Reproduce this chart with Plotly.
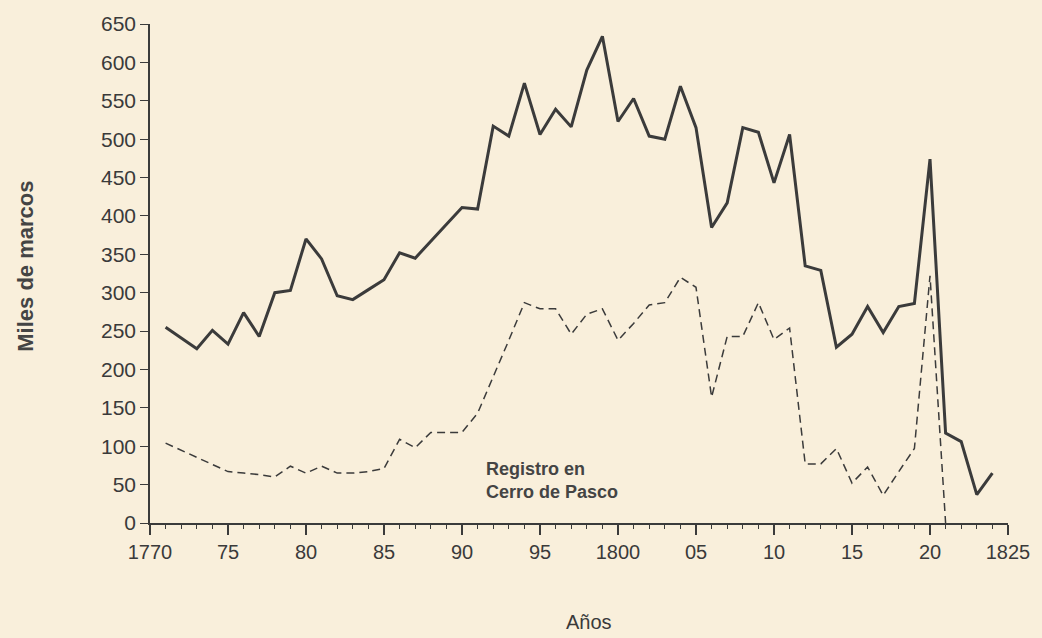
import plotly.graph_objects as go

years_total = list(range(1771, 1825))
total = [255, 241, 227, 251, 233, 274, 243, 300, 303, 370,
         344, 296, 291, 304, 317, 352, 345, 367, 389, 411,
         409, 517, 504, 573, 506, 539, 516, 590, 634, 523,
         553, 504, 500, 569, 515, 385, 417, 515, 509, 443,
         506, 335, 329, 229, 246, 282, 248, 282, 286, 474,
         117, 106, 37, 65]

years_pasco = list(range(1771, 1822))
pasco = [104, 95, 86, 77, 67, 65, 63, 60, 74, 65,
         74, 65, 65, 67, 71, 109, 98, 118, 118, 118,
         143, 190, 238, 287, 279, 279, 246, 272, 279, 238,
         260, 284, 287, 320, 307, 164, 243, 243, 287, 239,
         254, 77, 77, 97, 52, 73, 36, 67, 97, 322, 0]

x_tickvals = [1770, 1775, 1780, 1785, 1790, 1795, 1800, 1805, 1810, 1815, 1820, 1825]
x_ticktext = ["1770", "75", "80", "85", "90", "95", "1800", "05", "10", "15", "20", "1825"]
y_tickvals = list(range(0, 651, 50))

ink = "#3b3b3b"
bg = "#F9EFDB"
font_family = "Liberation Sans, Arial, sans-serif"

fig = go.Figure()
fig.add_trace(go.Scatter(x=years_total, y=total, mode="lines",
                         line=dict(color=ink, width=3), showlegend=False))
fig.add_trace(go.Scatter(x=years_pasco, y=pasco, mode="lines",
                         line=dict(color=ink, width=1.5, dash="8px,5px"), showlegend=False))

fig.add_annotation(x=1791.4, y=56, xref="x", yref="y",
                   text="<b>Registro en<br>Cerro de Pasco</b>", showarrow=False,
                   xanchor="left", yanchor="middle", align="left",
                   font=dict(family=font_family, size=18, color="#444444"))
fig.add_annotation(x=-0.146, y=0.515, xref="paper", yref="paper",
                   text="<b>Miles de marcos</b>", showarrow=False, textangle=-90,
                   xanchor="center", yanchor="middle",
                   font=dict(family=font_family, size=22, color="#444444"))
fig.add_annotation(x=0.512, y=-0.198, xref="paper", yref="paper",
                   text="Años", showarrow=False,
                   xanchor="center", yanchor="middle",
                   font=dict(family=font_family, size=20, color="#3a3a3a"))

fig.update_xaxes(range=[1770, 1825], tickvals=x_tickvals, ticktext=x_ticktext,
                 ticks="outside", ticklen=10, tickwidth=1.5, tickcolor=ink,
                 showline=True, linecolor=ink, linewidth=1.5, showgrid=False,
                 zeroline=False,
                 minor=dict(dtick=1, tick0=1770, ticks="outside", ticklen=4,
                            tickwidth=1.2, tickcolor=ink, showgrid=False),
                 tickfont=dict(family=font_family, size=20, color="#3a3a3a"))
fig.update_yaxes(range=[0, 650], tickvals=y_tickvals,
                 ticks="outside", ticklen=8, tickwidth=1.2, tickcolor=ink,
                 showline=True, linecolor=ink, linewidth=1.5, showgrid=False,
                 zeroline=False,
                 tickfont=dict(family=font_family, size=21, color="#3a3a3a"))

fig.update_layout(width=1042, height=638,
                  margin=dict(l=150, r=32, t=22, b=115),
                  paper_bgcolor=bg, plot_bgcolor=bg)

fig.write_html("out.html",
               config={"displayModeBar": False},
               post_script="document.body.style.margin='0';"
                           "document.body.style.overflow='hidden';"
                           "document.body.style.background='" + bg + "';")
